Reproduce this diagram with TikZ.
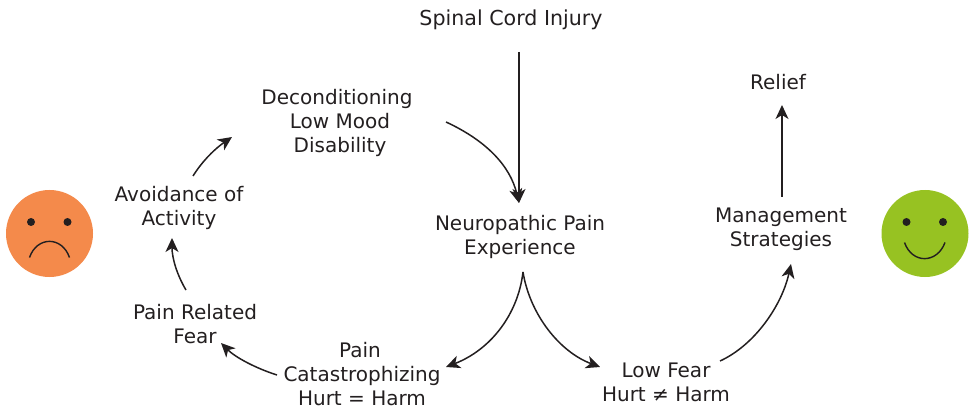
\documentclass[tikz,border=0pt]{standalone}
\usepackage{fontspec}
\setmainfont{DejaVu Sans}
\usetikzlibrary{arrows.meta}
\definecolor{txt}{HTML}{231F20}
\definecolor{sad}{HTML}{F48A4B}
\definecolor{happy}{HTML}{97C222}
\tikzset{x=1pt,y=-1pt,
 lbl/.style={align=center,text=txt,font=\fontsize{20}{24}\selectfont,inner sep=0pt},
 arr/.style={draw=txt,line width=1.5pt,-{Stealth[length=14pt,width=13pt,inset=4pt]}},
 face/.style={circle,minimum size=87pt,inner sep=0pt},
 eye/.style={circle,fill=txt,minimum size=8pt,inner sep=0pt},
 mouth/.style={draw=txt,line width=1.4pt}}
\begin{document}
\begin{tikzpicture}
\useasboundingbox (0,0) rectangle (970,409);
\node[lbl,font=\fontsize{20.6}{24}\selectfont] (sci) at (511,20) {Spinal Cord Injury};
\node[lbl] (np) at (520,237) {Neuropathic Pain\\Experience};
\node[lbl] (dec) at (337,123) {Deconditioning\\\hspace*{6pt}Low Mood\\\hspace*{6pt}Disability};
\node[lbl] (av) at (179,208) {Avoidance of\\Activity};
\node[lbl] (prf) at (195,324) {Pain Related\\Fear};
\node[lbl] (cat) at (362,374.5) {Pain\hspace*{4pt}\\Catastrophizing\\Hurt = Harm};
\node[lbl] (low) at (666,382) {Low Fear\\Hurt ≠ Harm};
\node[lbl] (ms) at (781,229) {Management\\Strategies};
\node[lbl] (rel) at (778,82) {Relief};
\coordinate (a1) at (519,52); \coordinate (a2) at (519,203);
\draw[arr] (a1) -- (a2);
\coordinate (b1) at (446,122);
\draw[arr] (b1) .. controls (485,140) and (510,165) .. (a2);
\coordinate (c1) at (523,272); \coordinate (c2) at (446,367);
\draw[arr] (c1) .. controls (518,315) and (490,350) .. (c2);
\coordinate (d2) at (600,367);
\draw[arr] (c1) .. controls (530,315) and (560,352) .. (d2);
\coordinate (e1) at (720,361); \coordinate (e2) at (791,264);
\draw[arr] (e1) .. controls (755,345) and (782,305) .. (e2);
\coordinate (f1) at (782,197); \coordinate (f2) at (782,105);
\draw[arr] (f1) -- (f2);
\coordinate (g1) at (277,375); \coordinate (g2) at (221,343);
\draw[arr] (g1) .. controls (255,368) and (235,357) .. (g2);
\coordinate (h1) at (186,290); \coordinate (h2) at (172,238);
\draw[arr] (h1) .. controls (177,275) and (172,258) .. (h2);
\coordinate (i1) at (193,176); \coordinate (i2) at (232,137);
\draw[arr] (i1) .. controls (203,160) and (216,148) .. (i2);
\node[face,fill=sad] (s) at (49.5,233.5) {};
\node[eye] (s1) at (31,222) {};
\node[eye] (s2) at (67.5,222) {};
\coordinate (m1) at (29.5,257.5); \coordinate (m2) at (69.5,257.5);
\draw[mouth] (m1) .. controls (37,236) and (62,236) .. (m2);
\node[face,fill=happy] (h) at (925,233.5) {};
\node[eye] (h1n) at (906.5,222) {};
\node[eye] (h2n) at (943,222) {};
\coordinate (n1) at (904.5,242.5); \coordinate (n2) at (945,242.5);
\draw[mouth] (n1) .. controls (912,264) and (937,264) .. (n2);
\end{tikzpicture}
\end{document}
